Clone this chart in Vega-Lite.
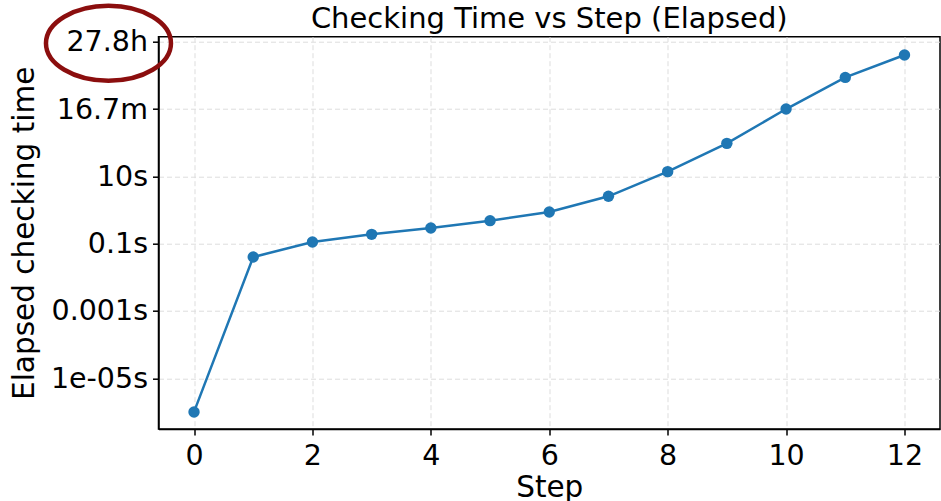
{
  "$schema": "https://vega.github.io/schema/vega-lite/v6.json",
  "autosize": {"type": "none"},
  "padding": {"left": 158.5, "top": 36.7, "right": 1, "bottom": 72},
  "width": 781.5,
  "height": 392.3,
  "background": "white",
  "title": {
    "text": "Checking Time vs Step (Elapsed)",
    "font": "DejaVu Sans",
    "fontSize": 29,
    "fontWeight": "normal",
    "color": "black",
    "anchor": "middle",
    "frame": "group",
    "baseline": "alphabetic",
    "offset": -60
  },
  "config": {
    "view": {"stroke": "black", "strokeWidth": 1.5},
    "axis": {
      "labelFont": "DejaVu Sans",
      "titleFont": "DejaVu Sans",
      "labelFontSize": 28.5,
      "titleFontSize": 29.5,
      "titleFontWeight": "normal",
      "labelColor": "black",
      "titleColor": "black",
      "domainColor": "black",
      "domainWidth": 1.5,
      "tickColor": "black",
      "tickWidth": 1.5,
      "tickSize": 6,
      "gridColor": "#dddddd",
      "gridDash": [5, 3],
      "gridWidth": 1
    }
  },
  "datasets": {
    "steps": [
      {"step": 0, "time": 0.000001},
      {"step": 1, "time": 0.040},
      {"step": 2, "time": 0.112},
      {"step": 3, "time": 0.189},
      {"step": 4, "time": 0.291},
      {"step": 5, "time": 0.482},
      {"step": 6, "time": 0.869},
      {"step": 7, "time": 2.55},
      {"step": 8, "time": 13.8},
      {"step": 9, "time": 95.5},
      {"step": 10, "time": 1000},
      {"step": 11, "time": 8690},
      {"step": 12, "time": 40300}
    ],
    "annotation": [
      {"step": -1.445, "time": 90000}
    ]
  },
  "encoding": {
    "x": {
      "field": "step",
      "type": "quantitative",
      "scale": {"domain": [-0.6, 12.6], "nice": false, "zero": false},
      "axis": {
        "title": "Step",
        "values": [0, 2, 4, 6, 8, 10, 12],
        "labelPadding": 6,
        "titlePadding": 4
      }
    },
    "y": {
      "field": "time",
      "type": "quantitative",
      "scale": {"type": "log", "domain": [3.11e-7, 140900], "nice": false},
      "axis": {
        "title": "Elapsed checking time",
        "values": [0.00001, 0.001, 0.1, 10, 1000, 100000],
        "labelExpr": "datum.value >= 3600 ? format(datum.value / 3600, '.1f') + 'h' : datum.value >= 60 ? format(datum.value / 60, '.1f') + 'm' : datum.value < 0.0001 ? '1e-05s' : datum.value + 's'",
        "labelPadding": 5,
        "titlePadding": 11
      }
    }
  },
  "layer": [
    {
      "data": {"name": "steps"},
      "mark": {"type": "line", "color": "#1f77b4", "strokeWidth": 2.5}
    },
    {
      "data": {"name": "steps"},
      "mark": {"type": "point", "filled": true, "color": "#1f77b4", "opacity": 1, "size": 130}
    },
    {
      "data": {"name": "annotation"},
      "mark": {
        "type": "point",
        "shape": "M -1,0 A 1,0.6 0 1,0 1,0 A 1,0.6 0 1,0 -1,0 Z",
        "filled": false,
        "color": "#8b0e0e",
        "strokeWidth": 4.5,
        "opacity": 1,
        "size": 15625,
        "clip": false
      }
    }
  ]
}
